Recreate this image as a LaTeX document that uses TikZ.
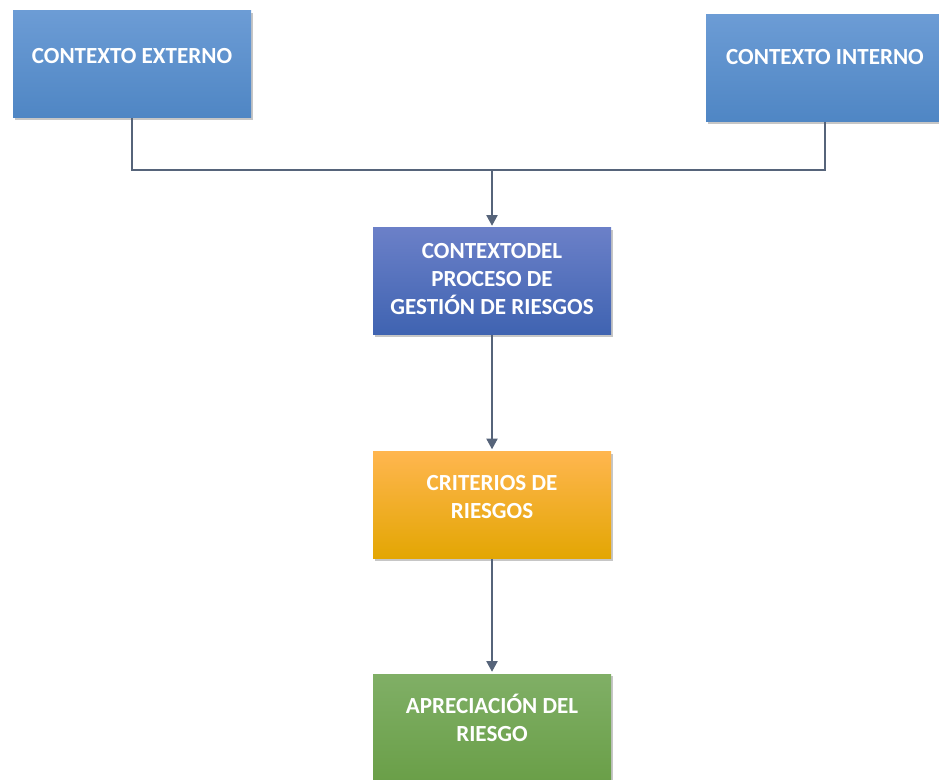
\documentclass[tikz,border=0pt]{standalone}
\usepackage{fontspec}
\setmainfont{Carlito}
\usetikzlibrary{arrows.meta,shadows}

\definecolor{azulA}{HTML}{6C9CD5}
\definecolor{azulB}{HTML}{4F86C4}
\definecolor{azulC}{HTML}{6B80C8}
\definecolor{azulD}{HTML}{3F63B1}
\definecolor{naranjaA}{HTML}{FFB64F}
\definecolor{naranjaB}{HTML}{FFBC00}
\definecolor{naranjaC}{HTML}{E3A603}
\definecolor{verdeA}{HTML}{80AF66}
\definecolor{verdeB}{HTML}{6A9F48}
\definecolor{linea}{HTML}{56647A}

\tikzset{
  caja/.style={minimum width=178.5pt, minimum height=80.25pt, inner sep=0pt,
    align=center, text=white, font=\fontsize{17.3}{21}\selectfont\bfseries,
    drop shadow={shadow xshift=1.2pt, shadow yshift=-1.8pt, opacity=0.45}},
  cajaazul/.style={caja, top color=azulA, bottom color=azulB},
  cajaproceso/.style={caja, top color=azulC, bottom color=azulD},
  cajacriterio/.style={caja, top color=naranjaA, middle color=naranjaB, bottom color=naranjaC},
  cajaverde/.style={caja, top color=verdeA, bottom color=verdeB},
  conector/.style={draw=linea, line width=0.9pt},
  flecha/.style={conector, -{Triangle[width=8.5pt,length=8pt]}, shorten >=1.5pt}
}

\begin{document}
\begin{tikzpicture}[x=0.75pt,y=-0.75pt]
        \useasboundingbox (0,0) rectangle (939,780);
        \clip (0,0) rectangle (939,780);
        % Top row: the two contexts.
        \node [cajaazul, text depth=13pt] (externo) at (132,64.5) {CONTEXTO EXTERNO};
        \node [cajaazul, text depth=16pt] (interno) at (825,68) {CONTEXTO INTERNO};
        % Main column.
        \node [cajaproceso, text depth=4pt] (proceso) at (492,281.5) {CONTEXTODEL\\PROCESO DE\\GESTIÓN DE RIESGOS};
        \node [cajacriterio, text depth=12pt] (criterios) at (492,505) {CRITERIOS DE\\RIESGOS};
        \node [cajaverde, text depth=14pt] (apreciacion) at (492,727.5) {APRECIACIÓN DEL\\RIESGO};
        % Connectors.
        \coordinate (union) at (492,170);
        \draw [conector] (externo.south) |- (union) -| (interno.south);
        \draw [flecha] (union) -- (proceso.north);
        \draw [flecha] (proceso.south) -- (criterios.north);
        \draw [flecha] (criterios.south) -- (apreciacion.north);
      \end{tikzpicture}
\end{document}
